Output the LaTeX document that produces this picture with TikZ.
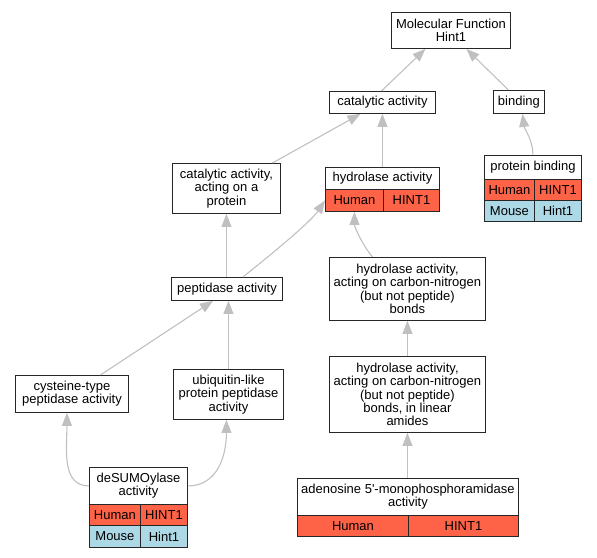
\documentclass[tikz,border=0pt]{standalone}
\usepackage{fontspec}
\setmainfont{Liberation Sans}[Ligatures=TeXOff]
\usetikzlibrary{arrows.meta}
\definecolor{hred}{HTML}{FF6347}
\definecolor{mblue}{HTML}{ADD8E6}
\definecolor{edgec}{HTML}{C0C0C0}
\tikzset{
 box/.style={draw=black!85, line width=0.9pt, inner sep=0pt, align=center, anchor=north west, font=\fontsize{13}{13.3}\selectfont},
 edge/.style={draw=edgec, line width=1.1pt, -{Triangle[length=13pt,width=10pt]}},
}
\newcommand\bx[7]{\node[box,fill=#6,minimum width={(#4-#2)*1pt},minimum height={(#5-#3)*1pt}] (#1) at (#2,#3) {#7};}
\begin{document}
\begin{tikzpicture}[x=1pt,y=-1pt]
\useasboundingbox (0,0) rectangle (597,557);
% nodes
\bx{mf}{391}{12}{510}{48}{white}{Molecular Function\\Hint1}
\bx{cat}{329}{91}{435}{113}{white}{catalytic activity}
\bx{bind}{493}{90}{544}{113}{white}{binding}
\bx{pb}{484}{155}{581}{179}{white}{protein binding}
\bx{pbH}{484}{179}{534}{200}{hred}{Human}
\bx{pbHg}{534}{179}{581}{200}{hred}{HINT1}
\bx{pbM}{484}{200}{534}{221}{mblue}{Mouse}
\bx{pbMg}{534}{200}{581}{221}{mblue}{Hint1}
\bx{catprot}{172}{163}{280}{213}{white}{catalytic activity,\\acting on a\\protein}
\bx{hyd}{325}{167}{439}{189}{white}{hydrolase activity}
\bx{hydH}{325}{189}{383}{211}{hred}{Human}
\bx{hydHg}{383}{189}{439}{211}{hred}{HINT1}
\bx{pep}{171}{277}{282}{300}{white}{peptidase activity}
\bx{cn}{329}{257}{485}{320}{white}{hydrolase activity,\\acting on carbon-nitrogen\\(but not peptide)\\bonds}
\bx{lin}{329}{356}{485}{432}{white}{hydrolase activity,\\acting on carbon-nitrogen\\(but not peptide)\\bonds, in linear\\amides}
\bx{aden}{297}{478}{518}{515}{white}{adenosine 5'-monophosphoramidase\\activity}
\bx{adenH}{297}{515}{408}{536}{hred}{Human}
\bx{adenHg}{408}{515}{518}{536}{hred}{HINT1}
\bx{cys}{15}{375}{128}{412}{white}{cysteine-type\\peptidase activity}
\bx{ubi}{173}{369}{283}{419}{white}{ubiquitin-like\\protein peptidase\\activity}
\bx{des}{89}{467}{187}{504}{white}{deSUMOylase\\activity}
\bx{desH}{89}{504}{140}{525}{hred}{Human}
\bx{desHg}{140}{504}{187}{525}{hred}{HINT1}
\bx{desM}{89}{525}{140}{547}{mblue}{Mouse}
\bx{desMg}{140}{525}{187}{547}{mblue}{Hint1}
% edges
\draw[edge] ([xshift=-1pt]cat.north) -- ([xshift=-25.5pt]mf.south);
\draw[edge] ([xshift=-10.5pt]bind.north) -- ([xshift=15.5pt]mf.south);
\draw[edge] (pb.north) .. controls +(0,-15) and +(2,15) .. ([xshift=3.5pt]bind.south);
\draw[edge] ([xshift=46pt]catprot.north) -- ([xshift=-22pt]cat.south);
\draw[edge] (hyd.north) -- (cat.south);
\draw[edge] ([xshift=-0.5pt]pep.north) -- (catprot.south);
\draw[edge] ([xshift=16pt]pep.north) .. controls +(50,-40) and +(-12,18) .. (hydH.west);
\draw[edge] ([xshift=-35pt]cn.north) .. controls +(-10,-12) and +(0,15) .. (hydH.south);
\draw[edge] (lin.north) -- (cn.south);
\draw[edge] ([xshift=-0.5pt]aden.north) -- (lin.south);
\draw[edge] ([xshift=28.5pt]cys.north) -- ([xshift=-14pt]pep.south);
\draw[edge] (ubi.north) -- ([xshift=1.5pt]pep.south);
\draw[edge] (des.west) .. controls +(-28,0) and +(0,35) .. ([xshift=-5pt]cys.south);
\draw[edge] (des.east) .. controls +(30,0) and +(0,35) .. ([xshift=-2pt]ubi.south);
\end{tikzpicture}
\end{document}
